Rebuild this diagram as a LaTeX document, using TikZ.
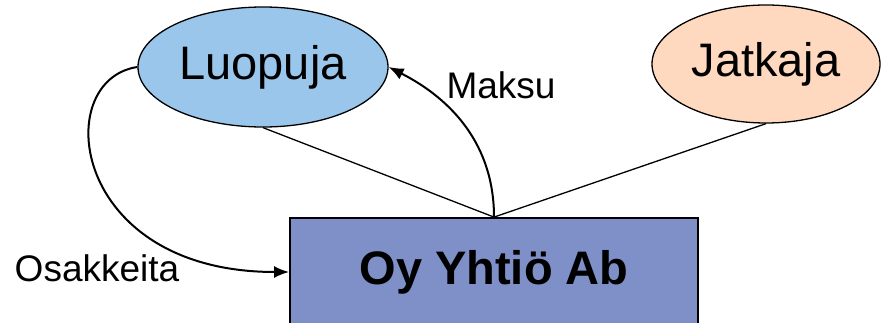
\documentclass[tikz,border=0pt]{standalone}
\usepackage{fontspec}
\setmainfont{Liberation Sans}
\usetikzlibrary{positioning}
\usetikzlibrary{arrows.meta,shapes.geometric,calc}
\usepackage{xcolor}
\definecolor{luopujablue}{RGB}{153,198,234}
\definecolor{jatkajapeach}{RGB}{255,217,191}
\definecolor{yhtioblue}{RGB}{127,143,200}

\tikzset{
  osapuoli/.style={ellipse,draw,line width=1.3pt,inner sep=0pt,font=\fontsize{47}{56}\selectfont},
  yhtio/.style={rectangle,draw,line width=1.8pt,fill=yhtioblue,minimum width=408pt,minimum height=108pt,font=\fontsize{47}{56}\selectfont\bfseries},
  virta/.style={line width=2pt,-{Latex[length=15pt,width=12pt]}},
  selite/.style={font=\fontsize{37}{44}\selectfont}
}

\begin{document}
\begin{tikzpicture}[x=1pt,y=-1pt]
\useasboundingbox (0,0) rectangle (882,323);

\node[osapuoli,fill=luopujablue,minimum width=250pt,minimum height=120pt] (luopuja) at (263,67) {Luopuja};
\node[osapuoli,fill=jatkajapeach,minimum width=228pt,minimum height=118pt] (jatkaja) at (766,64) {Jatkaja};
\node[yhtio] (oy) at (494,272) {Oy Yhtiö Ab};

\draw[line width=1.3pt] (luopuja.south) -- (oy.north);
\draw[line width=1.3pt] (jatkaja.south) -- (oy.north);

\draw[virta] (oy.north) to[out=90,in=-27] (luopuja.east);
\draw[virta] (luopuja.west) .. controls (50,80) and (70,272) .. (oy.west);

\node[selite] (maksu) at (501,85) {Maksu};
\node[selite] (osakkeita) at (97,268) {Osakkeita};

\end{tikzpicture}
\end{document}
